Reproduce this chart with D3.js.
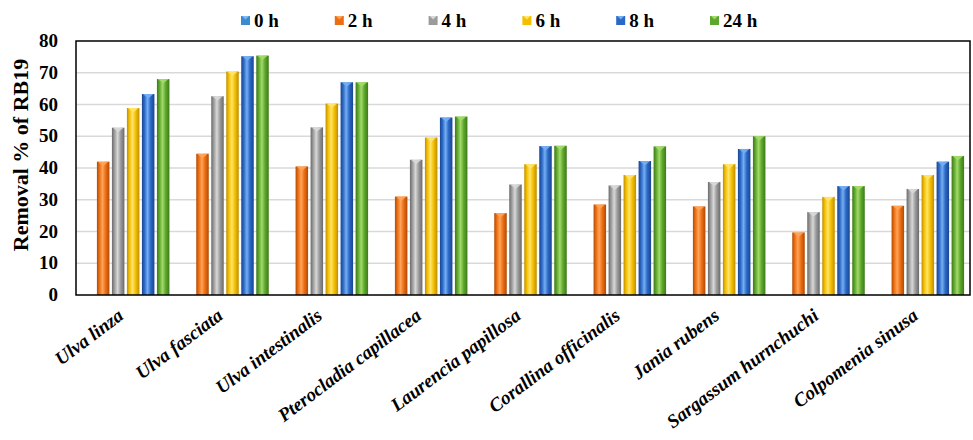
<!DOCTYPE html>
<html><head><meta charset="utf-8">
<script src="https://cdn.jsdelivr.net/npm/d3@7"></script>
<style>body{margin:0;background:#fff;}svg{display:block;}</style>
</head><body><svg id="c" width="973" height="440"></svg>
<script>
const categories = ["Ulva linza","Ulva fasciata","Ulva intestinalis","Pterocladia capillacea","Laurencia papillosa","Corallina officinalis","Jania rubens","Sargassum hurnchuchi","Colpomenia sinusa"];
const seriesNames = ["0 h","2 h","4 h","6 h","8 h","24 h"];
const h0  = [0,0,0,0,0,0,0,0,0];
const h2  = [42.0,44.5,40.5,31.0,25.8,28.5,27.9,19.7,28.1];
const h4  = [52.7,62.6,52.8,42.6,34.8,34.5,35.6,26.1,33.4];
const h6  = [58.9,70.4,60.3,49.6,41.2,37.8,41.2,30.9,37.8];
const h8  = [63.3,75.2,67.0,55.9,46.9,42.2,46.0,34.3,42.0];
const h24 = [68.0,75.4,67.0,56.2,47.0,46.8,50.0,34.3,43.8];
const seriesValues = [h0,h2,h4,h6,h8,h24];
const yTicks = [0,10,20,30,40,50,60,70,80];
const colors = [
  {base:"#3A8BD2", light:"#7DBBF0", dark:"#1F5E9A"},
  {base:"#EC6E12", light:"#FFA45A", dark:"#B14A05"},
  {base:"#9B9B9B", light:"#D8D8D8", dark:"#6A6A6A"},
  {base:"#F3BF00", light:"#FFE46A", dark:"#C08E00"},
  {base:"#2B68C6", light:"#74AEF2", dark:"#1A4590"},
  {base:"#5EA72E", light:"#A2DA6A", dark:"#3D7A18"}
];
const FONT = "'Liberation Serif'";

const svg = d3.select("#c");
const L=76, R=970, T=41, B=295;
const x0 = d3.scaleBand().domain(categories).range([L,R]).paddingInner(0.094).paddingOuter(0.047);
const x1 = d3.scaleBand().domain(seriesNames).range([0,x0.bandwidth()]).paddingInner(0.167).paddingOuter(0.083);
const y = d3.scaleLinear().domain([0,80]).range([B,T]);

const defs = svg.append("defs");
colors.forEach((c,i)=>{
  const g = defs.append("linearGradient").attr("id","g"+i).attr("x1","0").attr("x2","1").attr("y1","0").attr("y2","0");
  g.append("stop").attr("offset","0").attr("stop-color",c.dark);
  g.append("stop").attr("offset","0.2").attr("stop-color",c.base);
  g.append("stop").attr("offset","0.45").attr("stop-color",c.light);
  g.append("stop").attr("offset","0.7").attr("stop-color",c.base);
  g.append("stop").attr("offset","1").attr("stop-color",c.dark);
});

// gridlines
svg.append("g").selectAll("line").data(yTicks.filter(d=>d>0&&d<80)).join("line")
  .attr("x1",L).attr("x2",R).attr("y1",d=>y(d)).attr("y2",d=>y(d))
  .attr("stroke","#d9d9d9").attr("stroke-width",1.5);

// bars
const gGroups = svg.append("g").selectAll("g").data(categories).join("g")
  .attr("transform",d=>`translate(${x0(d)},0)`);
seriesNames.forEach((s,si)=>{
  gGroups.each(function(cat,ci){
    const v = seriesValues[si][ci];
    if(v<=0) return;
    const g = d3.select(this);
    const bx = x1(s), bw = x1.bandwidth();
    g.append("rect").attr("x",bx).attr("y",y(v)).attr("width",bw).attr("height",y(0)-y(v))
      .attr("fill",`url(#g${si})`);
    g.append("path")
      .attr("d",`M${bx+1},${y(v)} L${bx+bw-1},${y(v)} L${bx+bw/2},${y(v)+4.5} Z`)
      .attr("fill",colors[si].light).attr("opacity",0.9);
  });
});

// frame
svg.append("rect").attr("x",L).attr("y",T).attr("width",R-L).attr("height",B-T)
  .attr("fill","none").attr("stroke","#000").attr("stroke-width",1.5);

// y tick labels
svg.append("g").selectAll("text").data(yTicks).join("text")
  .attr("x",58).attr("y",d=>y(d)+6).attr("text-anchor","end")
  .style("font-family",FONT).attr("font-weight","bold")
  .attr("font-size",19).attr("fill","#000").text(d=>d);

// y title
svg.append("text").attr("transform","translate(28,155) rotate(-90)").attr("text-anchor","middle")
  .style("font-family",FONT).attr("font-weight","bold")
  .attr("font-size",22).attr("fill","#000").text("Removal % of RB19");

// x labels
svg.append("g").selectAll("text").data(categories).join("text")
  .attr("transform",d=>`translate(${x0(d)+x0.bandwidth()/2-1},${318}) rotate(-37)`)
  .attr("text-anchor","end")
  .style("font-family",FONT).attr("font-weight","bold").attr("font-style","italic")
  .attr("font-size",19).attr("fill","#000").text(d=>d);

// legend
const lg = svg.append("g").selectAll("g").data(seriesNames).join("g")
  .attr("transform",(d,i)=>`translate(${241+i*93.8},0)`);
lg.append("rect").attr("x",0).attr("y",16).attr("width",9).attr("height",9).attr("fill",(d,i)=>colors[i].base);
lg.append("path").attr("d","M1,16 L8,16 L4.5,19.5 Z").attr("fill",(d,i)=>colors[i].light);
lg.append("text").attr("x",13).attr("y",27)
  .style("font-family",FONT).attr("font-weight","bold")
  .attr("font-size",19).attr("fill","#000").text(d=>d);
</script></body></html>
